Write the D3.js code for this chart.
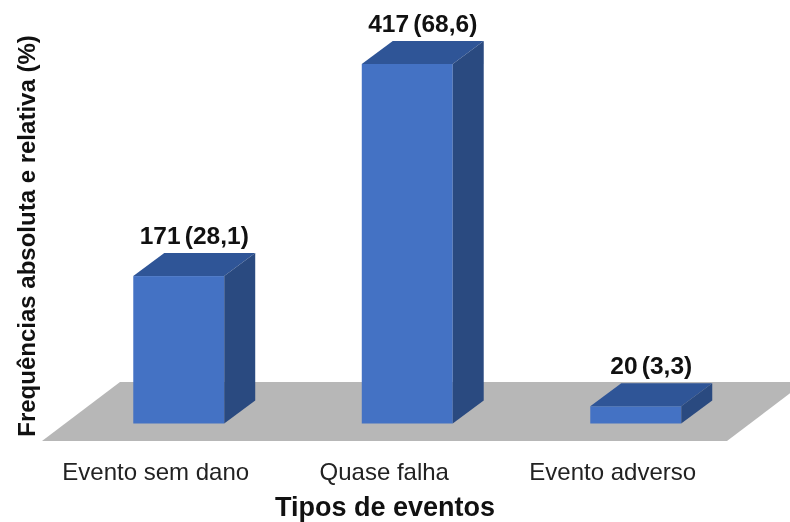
<!DOCTYPE html>
<html><head><meta charset="utf-8">
<style>html,body{margin:0;padding:0;background:#fff}svg{display:block;filter:blur(.4px)}text{font-family:"Liberation Sans",Arial,sans-serif;fill:#111}</style>
<script src="https://cdn.jsdelivr.net/npm/d3@7/dist/d3.min.js"></script>
</head><body><svg id="c" width="790" height="522"></svg>
<script>
const categories=["Evento sem dano","Quase falha","Evento adverso"];
const counts=[171,417,20];
const percents=["28,1","68,6","3,3"];
const xTitle="Tipos de eventos";
const yTitle="Frequências absoluta e relativa (%)";

const svg=d3.select("#c");
const x=d3.scaleBand().domain(categories).range([64.5,750]).paddingInner(.602).paddingOuter(.301);
const y=d3.scaleLinear().domain([0,417]).range([423.5,64]);
const dx=31,dy=23;
const floorFront=441,floorBack=382,floorDx=78;
const line=d3.line();
svg.append("path").attr("d",line([[42,floorFront],[727,floorFront],[727+floorDx,floorBack],[42+floorDx,floorBack]])+"Z").attr("fill","#b7b7b7");
const g=svg.selectAll("g.bar").data(categories.map((c,i)=>({c,v:counts[i],p:percents[i]}))).join("g").attr("class","bar");
g.append("rect").attr("x",d=>x(d.c)).attr("y",d=>y(d.v)).attr("width",x.bandwidth()).attr("height",d=>y(0)-y(d.v)).attr("fill","#4472c4");
g.append("path").attr("fill","#2f5597").attr("d",d=>{const l=x(d.c),r=l+x.bandwidth(),t=y(d.v);return line([[l,t],[r,t],[r+dx,t-dy],[l+dx,t-dy]])+"Z";});
g.append("path").attr("fill","#2a4a80").attr("d",d=>{const r=x(d.c)+x.bandwidth(),t=y(d.v),b=y(0);return line([[r,t],[r+dx,t-dy],[r+dx,b-dy],[r,b]])+"Z";});
g.append("text").attr("x",d=>x(d.c)+x.bandwidth()/2+15.5).attr("y",d=>y(d.v)-dy-9.5).attr("text-anchor","middle").attr("font-size",24.5).attr("font-weight","bold").attr("word-spacing",-2.5).text(d=>`${d.v} (${d.p})`);
g.append("text").attr("x",d=>x(d.c)+x.bandwidth()/2-23).attr("y",480).attr("text-anchor","middle").attr("font-size",24).attr("style","fill:#222").text(d=>d.c);
svg.append("text").attr("x",385).attr("y",516).attr("text-anchor","middle").attr("font-size",27).attr("font-weight","bold").text(xTitle);
svg.append("text").attr("transform","translate(35,236) rotate(-90)").attr("text-anchor","middle").attr("font-size",24).attr("font-weight","bold").text(yTitle);
</script></body></html>
